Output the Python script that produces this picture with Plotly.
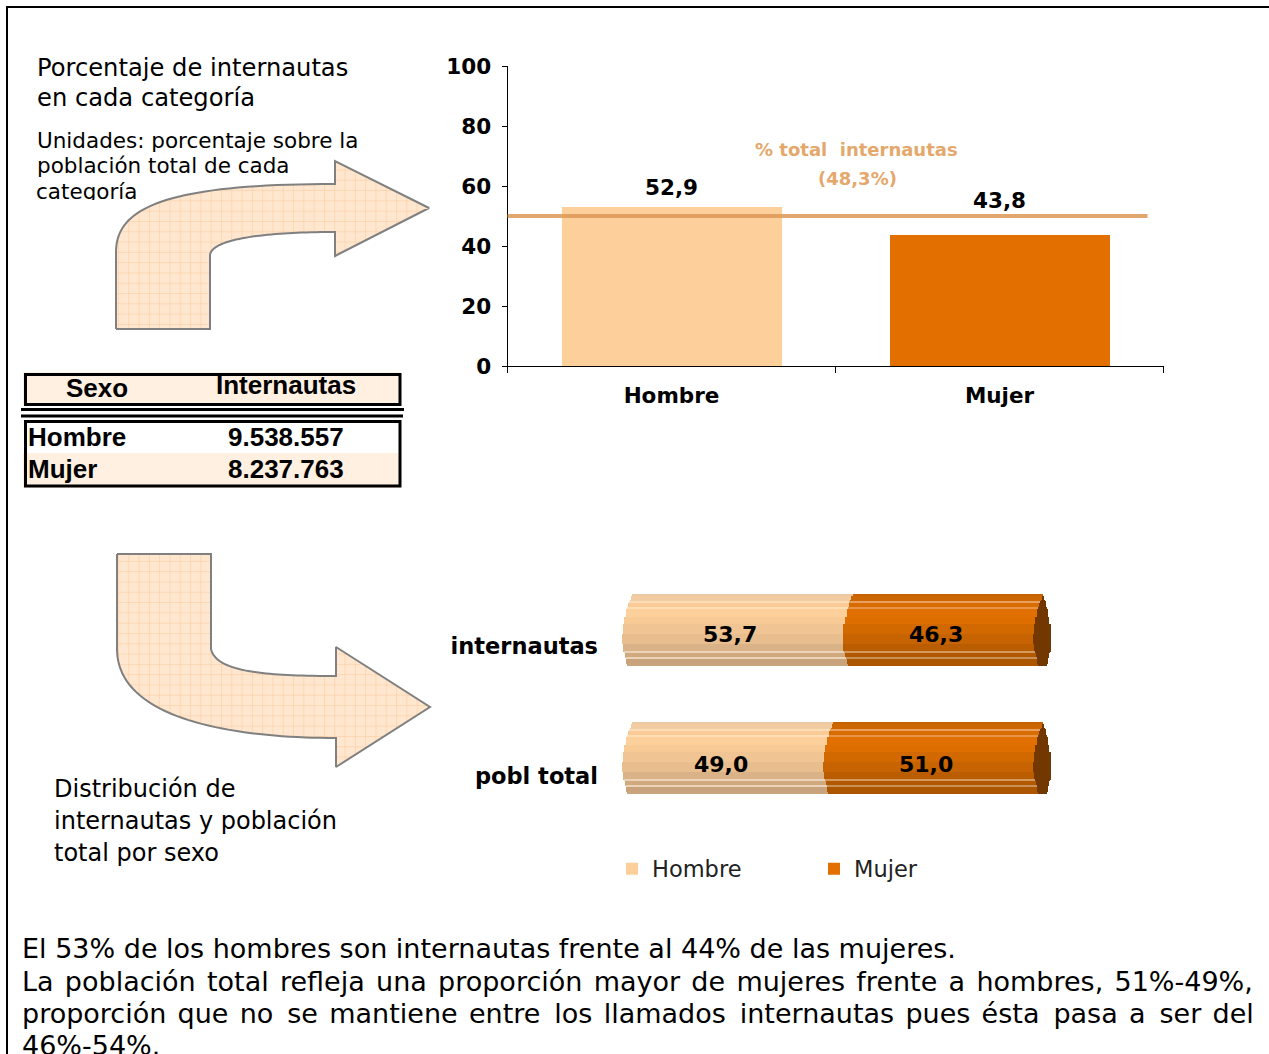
import plotly.graph_objects as go

W, H = 1269, 1054

# ---- data ----
categories = ["Hombre", "Mujer"]
pct_internautas = [52.9, 43.8]
total_line_value = 50.0
total_label = ["% total  internautas", "(48,3%)"]

dist_categories = ["pobl total", "internautas"]
dist_hombre = [49.0, 53.7]
dist_mujer = [51.0, 46.3]

table_header = ["Sexo", "Internautas"]
table_sexo = ["Hombre", "Mujer"]
table_values = ["9.538.557", "8.237.763"]

title_lines = ["Porcentaje de internautas", "en cada categoría"]
unit_lines = ["Unidades: porcentaje sobre la", "población total de cada"]
unit_last = "categoría"
dist_lines = ["Distribución de", "internautas y población", "total por sexo"]
body_lines = [
    "El 53% de los hombres son internautas frente al 44% de las mujeres.",
    "La población total refleja una proporción mayor de mujeres frente a hombres, 51%-49%,",
    "proporción que no se mantiene entre los llamados internautas pues ésta pasa a ser del",
    "46%-54%.",
]
# extra hair spaces per word gap, imitating the justified paragraph
body_justify = [0, 1, 1.4, 0]

# ---- style ----
C_H, C_M = "#FDCF9B", "#E36F00"
C_LINE = "rgba(222,150,85,0.85)"
C_LABEL = "#E5A86C"
VERD = "DejaVu Sans"
ARIAL = "Liberation Sans"
# cylinder shading: band height (px), hombre colour, mujer colour, left bulge (px)
bands = [
    (2, "#EBC8A0", "#C66300", 10), (4, "#F0CCA0", "#CC6600", 8.5), (2, "#F2CDA2", "#D06800", 7.5),
    (1, "#FBDDB8", "#E8A060", 6.5), (5, "#FACB97", "#D96C00", 6), (1, "#FFDDB5", "#E8954A", 5.3),
    (8, "#FDCF9B", "#E27000", 4), (7, "#F8CA96", "#DE6E00", 2), (10, "#F1C493", "#D26900", 0.5),
    (10, "#E8BE8F", "#C76300", 0), (8, "#DAB287", "#BA5D00", 0.5), (1, "#EAD3B8", "#D49A60", 1.5),
    (5, "#D0A97F", "#B25900", 2.5), (1, "#EAD3B8", "#C9905A", 3.5), (5, "#C9A37C", "#AD5600", 4),
    (2, "#C9A47D", "#AC5600", 5),
]
C_CAP = "#733700"
PX_PER_UNIT = 4.11
ROW_STEP = 128.0
CAP_PX = 18


def px(x):
    return x / W


def py(y):
    return 1 - y / H


fig = go.Figure()

# ---- top column chart ----
for cat, val, col in zip(categories, pct_internautas, [C_H, C_M]):
    fig.add_trace(go.Bar(x=[cat], y=[val], name=cat, width=0.67, marker=dict(color=col, line_width=0),
                         xaxis="x", yaxis="y", hoverinfo="skip"))

# ---- bottom stacked cylinder bars ----
t = 0.0
for h, ch, cm, bulge in bands:
    off = (36 - t - h) / ROW_STEP
    shift = bulge / PX_PER_UNIT
    common = dict(y=[0, 1], width=h / ROW_STEP + 0.001, offset=off, orientation="h", xaxis="x2", yaxis="y2",
                  showlegend=False, hoverinfo="skip")
    fig.add_trace(go.Bar(x=dist_hombre, base=[shift, shift], marker=dict(color=ch, line_width=0), **common))
    b2 = [v + shift for v in dist_hombre]
    fig.add_trace(go.Bar(x=dist_mujer, base=b2, marker=dict(color=cm, line_width=0), **common))
    cap_w = (CAP_PX - bulge * 1.8) / PX_PER_UNIT
    fig.add_trace(go.Bar(x=[cap_w, cap_w], base=[a + b + shift for a, b in zip(dist_hombre, dist_mujer)],
                         marker=dict(color=C_CAP, line_width=0), **common))
    t += h


# ---- arrows, on a page-sized helper axis ----
def bez(p0, p1, p2, p3, n=40):
    out = []
    for i in range(1, n + 1):
        s = i / n
        a, b, c, d = (1 - s) ** 3, 3 * s * (1 - s) ** 2, 3 * s * s * (1 - s), s ** 3
        out.append((a * p0[0] + b * p1[0] + c * p2[0] + d * p3[0], a * p0[1] + b * p1[1] + c * p2[1] + d * p3[1]))
    return out


arrow1 = [(116, 329), (116, 252)] + bez((116, 252), (116, 208), (165, 184), (335, 184)) + [
    (335, 161), (429, 208), (335, 256), (335, 232)] + bez((335, 232), (270, 232), (212, 238), (210, 255)) + [
    (210, 329), (116, 329)]
arrow2 = [(117, 554), (211, 554), (211, 649)] + bez((211, 649), (216, 670), (255, 676), (336, 676)) + [
    (336, 647), (430, 707), (336, 767), (336, 738)] + bez((336, 738), (235, 738), (117, 720), (117, 649)) + [
    (117, 554)]
for arrow in (arrow1, arrow2):
    fig.add_trace(go.Scatter(
        x=[p[0] for p in arrow], y=[p[1] for p in arrow], mode="lines", fill="toself",
        line=dict(color="#808080", width=2, simplify=False),
        fillcolor="#FFE6CF",
        fillpattern=dict(shape="+", size=10.3, solidity=0.1, fgcolor="#FBC99A", bgcolor="#FFE6CF", fgopacity=1),
        xaxis="x3", yaxis="y3", showlegend=False, hoverinfo="skip"))
# last line of the unit note, clipped by a white box as in the reference
fig.add_trace(go.Scatter(x=[36], y=[194], mode="text", text=[unit_last], textposition="middle right",
                         textfont=dict(family=VERD, size=21.5, color="black"),
                         xaxis="x3", yaxis="y3", showlegend=False, hoverinfo="skip"))

shapes = []


def rect(x0, y0, x1, y1, fill=None, line=None, lw=0, layer="below"):
    shapes.append(dict(type="rect", xref="paper", yref="paper", x0=px(x0), x1=px(x1), y0=py(y0), y1=py(y1),
                       fillcolor=fill or "rgba(0,0,0,0)", line=dict(color=line or "rgba(0,0,0,0)", width=lw),
                       layer=layer))


def hline(x0, x1, y, col="black", lw=2):
    shapes.append(dict(type="line", xref="paper", yref="paper", x0=px(x0), x1=px(x1), y0=py(y), y1=py(y),
                       line=dict(color=col, width=lw)))


# outer frame
hline(6, 1269, 7)
shapes.append(dict(type="line", xref="paper", yref="paper", x0=px(7), x1=px(7), y0=py(6), y1=py(1054),
                   line=dict(color="black", width=2)))
# table
rect(23, 372, 401, 406, fill="#FFF0E2")
rect(23, 453, 401, 488, fill="#FFF0E2")
rect(25.5, 374.5, 400, 404.5, line="black", lw=3)
rect(25.5, 421.5, 400, 486, line="black", lw=3)
hline(21, 404, 409.5, lw=3)
hline(21, 403, 416, lw=3)
# white box clipping "categoría"
rect(30, 200, 135, 208, fill="white", layer="above")
# total line on the column chart
shapes.append(dict(type="line", xref="x domain", yref="y", x0=0, x1=(1148 - 508) / 656,
                   y0=total_line_value, y1=total_line_value, line=dict(color=C_LINE, width=4), layer="above"))

ann = []


def text(x, y, s, size, family=VERD, bold=False, color="black", anchor="left"):
    ann.append(dict(xref="paper", yref="paper", x=px(x), y=py(y), text=f"<b>{s}</b>" if bold else s,
                    showarrow=False, xanchor=anchor, yanchor="middle", align=anchor,
                    font=dict(family=family, size=size, color=color), borderpad=0))


def justify(s, extra):
    parts = s.split(" ")
    out, acc = parts[0], 0.0
    for w in parts[1:]:
        acc += extra
        n = int(acc)
        acc -= n
        out += " " + "\u200a" * n + w
    return out


for i, s in enumerate(title_lines):
    text(36, 68.5 + 29 * i, s, 24.2)
for i, s in enumerate(unit_lines):
    text(36, 140 + 26 * i, s, 21.5)
for i, s in enumerate(dist_lines):
    text(53, 788.5 + 32 * i, s, 24)
for s, e, yy in zip(body_lines, body_justify, [948, 981, 1013, 1045]):
    text(20.5, yy, justify(s, e), 27)

text(97, 388, table_header[0], 26, ARIAL, True, anchor="center")
text(286, 385, table_header[1], 26, ARIAL, True, anchor="center")
for s, v, yy in zip(table_sexo, table_values, [437, 469]):
    text(26.5, yy, s, 26, ARIAL, True)
    text(286, yy, v, 26, ARIAL, True, anchor="center")

text(856, 149, total_label[0], 18, VERD, True, C_LABEL, "center")
text(857, 179, total_label[1], 18, VERD, True, C_LABEL, "center")

# value labels of the column chart
for cat, val, dy in zip(categories, pct_internautas, [20, 34]):
    ann.append(dict(xref="x", yref="y", x=cat, y=val, yshift=dy, text=f"<b>{val:.1f}</b>".replace(".", ","),
                    showarrow=False, font=dict(family=VERD, size=21.5, color="black")))
# value labels of the stacked chart
for row, (a, b, dy) in enumerate(zip(dist_hombre, dist_mujer, [-6, -4])):
    ann.append(dict(xref="x2", yref="y2", x=a / 2, y=row, yshift=dy, xshift=-2,
                    text=f"<b>{a:.1f}</b>".replace(".", ","),
                    showarrow=False, font=dict(family=VERD, size=22, color="black")))
    ann.append(dict(xref="x2", yref="y2", x=a + b / 2, y=row, yshift=dy, xshift=-2,
                    text=f"<b>{b:.1f}</b>".replace(".", ","),
                    showarrow=False, font=dict(family=VERD, size=22, color="black")))

bottom_x0, bottom_x1 = 622, 1060
y2_top, y2_bot = 580, 820
fig.update_layout(
    width=W, height=H, margin=dict(l=0, r=0, t=0, b=0, autoexpand=False), autosize=False,
    paper_bgcolor="white", plot_bgcolor="rgba(0,0,0,0)", barmode="overlay", bargap=0,
    font=dict(family=VERD, color="black"),
    shapes=shapes, annotations=ann,
    xaxis=dict(domain=[px(507.5), px(1163.5)], anchor="y", type="category", categoryorder="array",
               categoryarray=categories, range=[-0.5, 1.5], tickson="boundaries", ticks="outside", ticklen=6,
               tickwidth=1, tickcolor="black", showline=True, linecolor="black", linewidth=1, showgrid=False,
               tickfont=dict(family=VERD, size=21.5, color="black", weight="bold"), ticklabelstandoff=10),
    yaxis=dict(domain=[py(366), py(66)], anchor="x", range=[0, 100], tickvals=[0, 20, 40, 60, 80, 100],
               ticks="outside", ticklen=5, tickwidth=1, tickcolor="black", showline=True, linecolor="black",
               linewidth=1, showgrid=False, zeroline=False,
               tickfont=dict(family=VERD, size=21.5, color="black", weight="bold"), ticklabelstandoff=6),
    xaxis2=dict(domain=[px(bottom_x0), px(bottom_x1)], anchor="y2",
                range=[0, (bottom_x1 - bottom_x0) / PX_PER_UNIT], visible=False),
    yaxis2=dict(domain=[py(y2_bot), py(y2_top)], anchor="x2",
                range=[(758 - y2_bot) / ROW_STEP, (758 - y2_top) / ROW_STEP],
                tickmode="array", tickvals=[-0.14, 0.875], ticktext=dist_categories, ticks="", showline=False,
                showgrid=False, zeroline=False, ticklabelstandoff=23,
                tickfont=dict(family=VERD, size=22.5, color="black", weight="bold")),
    xaxis3=dict(domain=[0, 1], anchor="y3", range=[0, W], visible=False),
    yaxis3=dict(domain=[0, 1], anchor="x3", range=[H, 0], visible=False),
    legend=dict(orientation="h", xref="paper", yref="paper", x=px(612), y=py(869), xanchor="left", yanchor="middle",
                entrywidth=157, entrywidthmode="pixels", itemwidth=30, bgcolor="rgba(0,0,0,0)",
                font=dict(family=VERD, size=22.5, color="#222222")),
)

fig.write_html("out.html", config={"displayModeBar": False},
               post_script="document.body.style.margin='0';document.body.style.overflow='hidden';")
